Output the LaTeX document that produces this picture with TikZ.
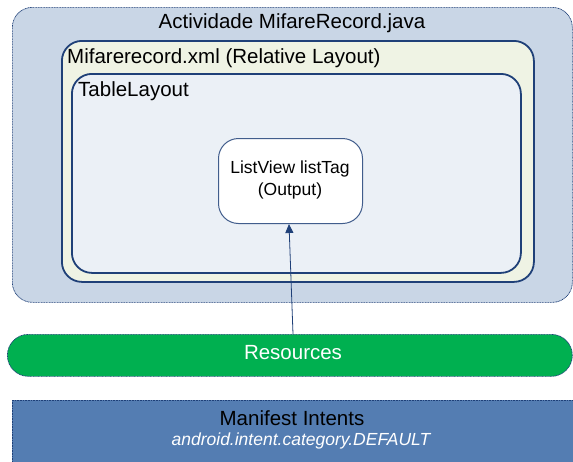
\documentclass[tikz,border=0pt]{standalone}
\usepackage{fontspec}
\setmainfont{Liberation Sans}
\usetikzlibrary{arrows.meta,positioning}
\definecolor{actfill}{RGB}{201,214,230}
\definecolor{xmlfill}{RGB}{239,243,228}
\definecolor{tabfill}{RGB}{235,240,246}
\definecolor{navy}{RGB}{31,64,120}
\definecolor{resgreen}{RGB}{0,176,80}
\definecolor{manblue}{RGB}{84,125,178}
\tikzset{
  actbox/.style={draw=navy, line width=0.7pt, dash pattern=on 1pt off 0.6pt, fill=actfill, rounded corners=20pt},
  xmlbox/.style={draw=navy, line width=1.8pt, fill=xmlfill, rounded corners=20pt},
  tabbox/.style={draw=navy, line width=1.8pt, fill=tabfill, rounded corners=20pt},
  viewbox/.style={draw=navy!85, line width=1pt, fill=white, rounded corners=20pt},
  resbox/.style={draw=navy, line width=0.7pt, dash pattern=on 1pt off 0.6pt, fill=resgreen, rounded corners=21pt},
  manbox/.style={draw=navy, line width=0.7pt, dash pattern=on 1pt off 0.6pt, fill=manblue},
  title/.style={inner sep=0pt}
}
\begin{document}
\begin{tikzpicture}[x=1pt,y=-1pt, font=\fontsize{20.5}{24}\selectfont]
  \useasboundingbox (0,0) rectangle (573,461);
  % activity and its layouts
  \node[actbox, anchor=north west, minimum width=560, minimum height=295] (act) at (12,7) {};
  \node[title] (acttitle) at (292,23) {Actividade MifareRecord.java};
  \node[xmlbox, anchor=north west, minimum width=472, minimum height=241] (xml) at (61,40) {};
  \node[title, anchor=west] (xmltitle) at (67,58) {Mifarerecord.xml (Relative Layout)};
  \node[tabbox, anchor=north west, minimum width=449, minimum height=199] (tab) at (71,73) {};
  \node[title, anchor=west] (tabtitle) at (78,91) {TableLayout};
  \node[viewbox, anchor=north west, minimum width=144, minimum height=85] (view) at (218,138) {};
  \node[align=center, font=\fontsize{17.5}{22}\selectfont] (viewtext) at (290,180) {ListView listTag\\(Output)};
  % resources
  \node[resbox, anchor=north west, minimum width=565, minimum height=42] (res) at (7,334) {};
  \node[title, text=white] (restext) at (293,353) {Resources};
  % manifest
  \node[manbox, anchor=north west, minimum width=570, minimum height=70] (man) at (12,400) {};
  \node[title] (mantitle) at (292,418) {Manifest Intents};
  \node[title, text=white, font=\fontsize{17.5}{21}\selectfont\itshape] (mancat) at (301,441) {android.intent.category.DEFAULT};
  \draw[navy, line width=0.8pt, -{Triangle[length=9pt,width=8pt]}] (res.north -| 293,0) -- (view.south -| 289,0);
\end{tikzpicture}
\end{document}
